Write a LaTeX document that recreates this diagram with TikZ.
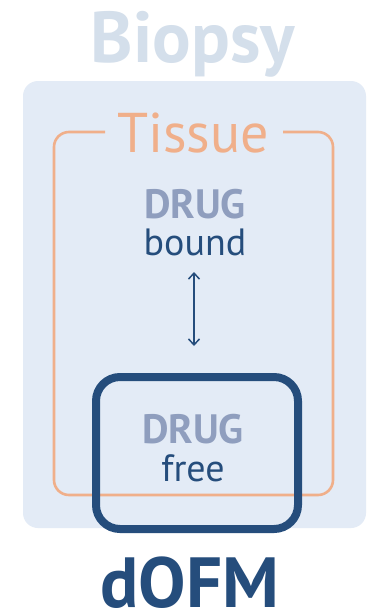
\documentclass[tikz,border=0pt]{standalone}
\usepackage{fontspec}
\setmainfont{PT Sans}
\usetikzlibrary{arrows.meta}
\definecolor{biopsytxt}{HTML}{D4DFEB}
\definecolor{bgblue}{HTML}{E3EBF6}
\definecolor{tissueor}{HTML}{F0AF8A}
\definecolor{druggray}{HTML}{8F9EBE}
\definecolor{darkblue}{HTML}{254D7C}
\tikzset{
  lbl/.style={inner sep=0pt, anchor=base},
  drugtxt/.style={lbl, text=druggray, font=\fontsize{41}{41}\selectfont\bfseries},
  statetxt/.style={lbl, text=darkblue, font=\fontsize{38}{38}\selectfont},
}
\begin{document}
\begin{tikzpicture}[x=1pt,y=-1pt]
\useasboundingbox (0,0) rectangle (378,614);
\fill[white] (0,0) rectangle (378,614);
% biopsy background
\fill[bgblue, rounded corners=15pt] (23,81) rectangle (366,528);
\node[lbl, text=biopsytxt, font=\fontsize{72}{72}\selectfont\bfseries] (biopsy) at (193,62) {Biopsy};
% tissue frame
\node[lbl, text=tissueor, font=\fontsize{56}{56}\selectfont] (tissue) at (193,152) {Tissue};
\draw[tissueor, line width=2.6pt, rounded corners=15pt]
  (105,132) -- (54,132) -- (54,495) -- (333,495) -- (333,132) -- (283,132);
% drug bound
\node[drugtxt] (drugb) at (195,218) {DRUG};
\node[statetxt] (bound) at (195,255) {bound};
% dOFM box
\draw[darkblue, line width=8pt, rounded corners=24pt] (96,377) rectangle (298,529);
\node[drugtxt] (drugf) at (193,443) {DRUG};
\node[statetxt] (free) at (193,481) {free};
\coordinate (atop) at (194,272);
\coordinate (abot) at (194,346);
\draw[darkblue, line width=1.5pt, {Straight Barb[length=6pt,width=11pt]}-{Straight Barb[length=6pt,width=11pt]}] (atop) -- (abot);
\node[lbl, text=darkblue, font=\fontsize{71}{71}\selectfont\bfseries] (dofm) at (190,607) {dOFM};
\end{tikzpicture}
\end{document}
